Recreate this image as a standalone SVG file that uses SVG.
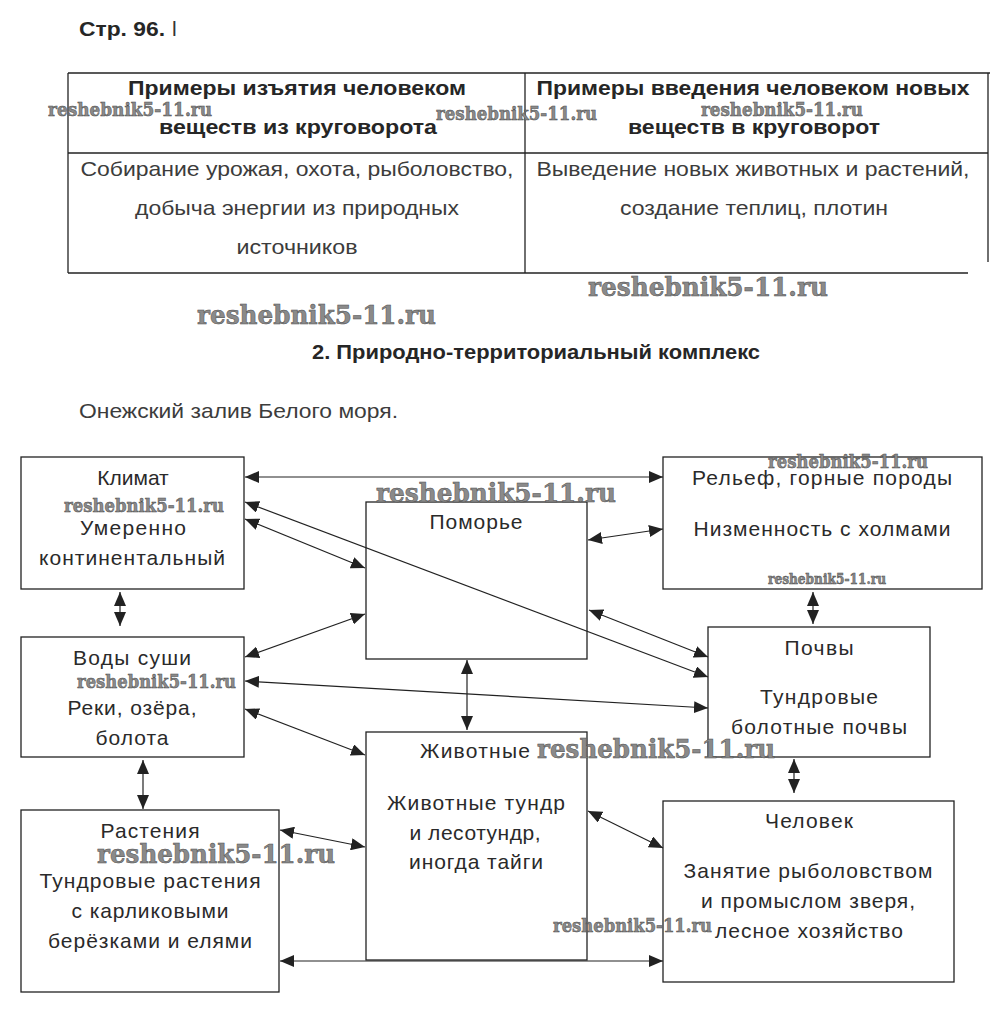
<svg xmlns="http://www.w3.org/2000/svg" width="993" height="1035" viewBox="0 0 993 1035">
<style>
.t{font-family:"Liberation Sans",Arial,sans-serif;fill:#333;}
.hb{font-family:"Liberation Sans",Arial,sans-serif;font-weight:bold;fill:#262626;font-size:20px;}
.tc{font-size:21px;fill:#3c3c3c;}
.n{font-size:21px;fill:#2a2a2a;text-anchor:middle;}
.box{fill:none;stroke:#222;stroke-width:1.3;}
.tl{stroke:#222;stroke-width:1.3;fill:none;}
.c{stroke:#222;stroke-width:1.2;fill:none;marker-start:url(#ah);marker-end:url(#ah);}
.wm{font-family:"DejaVu Serif","Liberation Serif",serif;font-weight:bold;fill:#8a8a8a;stroke:#4a4a4a;stroke-width:0.5;}
</style>
<defs>
<marker id="ah" viewBox="0 0 14 12" refX="14" refY="6" markerWidth="14" markerHeight="12" markerUnits="userSpaceOnUse" orient="auto-start-reverse">
<path d="M0,0 L14,6 L0,12 z" fill="#222"/>
</marker>
</defs>
<rect width="993" height="1035" fill="#fff"/>

<g id="header">
<text class="hb" x="79" y="36" font-size="21" textLength="86" lengthAdjust="spacingAndGlyphs">Стр. 96.</text>
<text class="t" x="172" y="36" font-size="21" fill="#555">l</text>
</g>

<g id="table">
<line class="tl" x1="68" y1="73" x2="990" y2="73"/>
<line class="tl" x1="68" y1="73" x2="68" y2="273"/>
<line class="tl" x1="525" y1="73" x2="525" y2="273"/>
<line class="tl" x1="988" y1="73" x2="988" y2="262"/>
<line class="tl" x1="68" y1="153" x2="988" y2="153"/>
<line class="tl" x1="68" y1="273" x2="968" y2="273"/>
<text class="hb" x="297" y="95" text-anchor="middle" textLength="338" lengthAdjust="spacingAndGlyphs">Примеры изъятия человеком</text>
<text class="hb" x="298" y="134" text-anchor="middle" textLength="278" lengthAdjust="spacingAndGlyphs">веществ из круговорота</text>
<text class="hb" x="753" y="95" text-anchor="middle" textLength="433" lengthAdjust="spacingAndGlyphs">Примеры введения человеком новых</text>
<text class="hb" x="754" y="134" text-anchor="middle" textLength="252" lengthAdjust="spacingAndGlyphs">веществ в круговорот</text>
<text class="t tc" x="297" y="176" text-anchor="middle" textLength="433" lengthAdjust="spacingAndGlyphs">Собирание урожая, охота, рыболовство,</text>
<text class="t tc" x="297" y="215" text-anchor="middle" textLength="324" lengthAdjust="spacingAndGlyphs">добыча энергии из природных</text>
<text class="t tc" x="297" y="254" text-anchor="middle" textLength="121" lengthAdjust="spacingAndGlyphs">источников</text>
<text class="t tc" x="753" y="176" text-anchor="middle" textLength="433" lengthAdjust="spacingAndGlyphs">Выведение новых животных и растений,</text>
<text class="t tc" x="754" y="215" text-anchor="middle" textLength="268" lengthAdjust="spacingAndGlyphs">создание теплиц, плотин</text>
</g>

<g id="titles">
<text class="hb" x="536" y="359" text-anchor="middle" textLength="448" lengthAdjust="spacingAndGlyphs">2. Природно-территориальный комплекс</text>
<text class="t tc" x="79" y="418" textLength="319" lengthAdjust="spacingAndGlyphs" font-size="20">Онежский залив Белого моря.</text>
</g>

<g id="connectors">
<line class="c" x1="245" y1="477" x2="663" y2="477"/>
<line class="c" x1="245" y1="502" x2="708" y2="677"/>
<line class="c" x1="245" y1="519" x2="365" y2="568"/>
<line class="c" x1="120" y1="592" x2="120" y2="626"/>
<line class="c" x1="245" y1="657" x2="365" y2="614"/>
<line class="c" x1="467" y1="660" x2="467" y2="730"/>
<line class="c" x1="245" y1="681" x2="708" y2="708"/>
<line class="c" x1="245" y1="709" x2="365" y2="755"/>
<line class="c" x1="588" y1="540" x2="663" y2="529"/>
<line class="c" x1="589" y1="610" x2="708" y2="657"/>
<line class="c" x1="813" y1="592" x2="813" y2="624"/>
<line class="c" x1="143" y1="760" x2="143" y2="809"/>
<line class="c" x1="280" y1="830" x2="365" y2="847"/>
<line class="c" x1="794" y1="759" x2="794" y2="793"/>
<line class="c" x1="588" y1="811" x2="663" y2="848"/>
<line class="c" x1="280" y1="961" x2="663" y2="961"/>
</g>

<g id="klimat">
<rect class="box" x="21" y="457" width="223" height="132"/>
<text class="t n" x="133" y="485">Климат</text>
<text class="t n" x="133" y="535" textLength="106">Умеренно</text>
<text class="t n" x="132" y="565" textLength="186">континентальный</text>
</g>

<g id="relief">
<rect class="box" x="663" y="457" width="319" height="132"/>
<text class="t n" x="822" y="485" textLength="260">Рельеф, горные породы</text>
<text class="t n" x="822" y="536" textLength="257">Низменность с холмами</text>
</g>

<g id="pomorye">
<rect class="box" x="366" y="502" width="221" height="157"/>
<text class="t n" x="476" y="529" textLength="93">Поморье</text>
</g>

<g id="vody">
<rect class="box" x="21" y="637" width="223" height="120"/>
<text class="t n" x="132" y="665" textLength="118">Воды суши</text>
<text class="t n" x="132" y="715" textLength="129">Реки, озёра,</text>
<text class="t n" x="132" y="745" textLength="73">болота</text>
</g>

<g id="pochvy">
<rect class="box" x="708" y="627" width="222" height="130"/>
<text class="t n" x="819" y="655" textLength="69">Почвы</text>
<text class="t n" x="819" y="704" textLength="118">Тундровые</text>
<text class="t n" x="819" y="734" textLength="176">болотные почвы</text>
</g>

<g id="zhivotnye">
<rect class="box" x="366" y="732" width="221" height="228"/>
<text class="t n" x="475" y="758" textLength="110">Животные</text>
<text class="t n" x="476" y="810" textLength="178">Животные тундр</text>
<text class="t n" x="475" y="840" textLength="131">и лесотундр,</text>
<text class="t n" x="476" y="869" textLength="134">иногда тайги</text>
</g>

<g id="rasteniya">
<rect class="box" x="21" y="810" width="258" height="182"/>
<text class="t n" x="150" y="838" textLength="99">Растения</text>
<text class="t n" x="150" y="888" textLength="221">Тундровые растения</text>
<text class="t n" x="150" y="918" textLength="157">с карликовыми</text>
<text class="t n" x="150" y="948" textLength="204">берёзками и елями</text>
</g>

<g id="chelovek">
<rect class="box" x="663" y="801" width="291" height="181"/>
<text class="t n" x="809" y="828" textLength="88">Человек</text>
<text class="t n" x="808" y="878" textLength="249">Занятие рыболовством</text>
<text class="t n" x="808" y="908" textLength="214">и промыслом зверя,</text>
<text class="t n" x="809" y="938" textLength="188">лесное хозяйство</text>
</g>

<g id="watermarks">
<text class="wm" x="48" y="116" font-size="18" textLength="164" lengthAdjust="spacingAndGlyphs">reshebnik5-11.ru</text>
<text class="wm" x="436" y="120" font-size="18" textLength="161" lengthAdjust="spacingAndGlyphs">reshebnik5-11.ru</text>
<text class="wm" x="701" y="116" font-size="18" textLength="162" lengthAdjust="spacingAndGlyphs">reshebnik5-11.ru</text>
<text class="wm" x="588" y="296" font-size="26" textLength="240" lengthAdjust="spacingAndGlyphs">reshebnik5-11.ru</text>
<text class="wm" x="197" y="324" font-size="26" textLength="239" lengthAdjust="spacingAndGlyphs">reshebnik5-11.ru</text>
<text class="wm" x="64" y="512" font-size="18" textLength="160" lengthAdjust="spacingAndGlyphs">reshebnik5-11.ru</text>
<text class="wm" x="376" y="502" font-size="26" textLength="240" lengthAdjust="spacingAndGlyphs">reshebnik5-11.ru</text>
<text class="wm" x="768" y="468" font-size="18" textLength="160" lengthAdjust="spacingAndGlyphs">reshebnik5-11.ru</text>
<text class="wm" x="768" y="584" font-size="14" textLength="118" lengthAdjust="spacingAndGlyphs">reshebnik5-11.ru</text>
<text class="wm" x="77" y="688" font-size="18" textLength="159" lengthAdjust="spacingAndGlyphs">reshebnik5-11.ru</text>
<text class="wm" x="537" y="758" font-size="26" textLength="238" lengthAdjust="spacingAndGlyphs">reshebnik5-11.ru</text>
<text class="wm" x="97" y="863" font-size="26" textLength="238" lengthAdjust="spacingAndGlyphs">reshebnik5-11.ru</text>
<text class="wm" x="553" y="932" font-size="18" textLength="159" lengthAdjust="spacingAndGlyphs">reshebnik5-11.ru</text>
</g>
</svg>
